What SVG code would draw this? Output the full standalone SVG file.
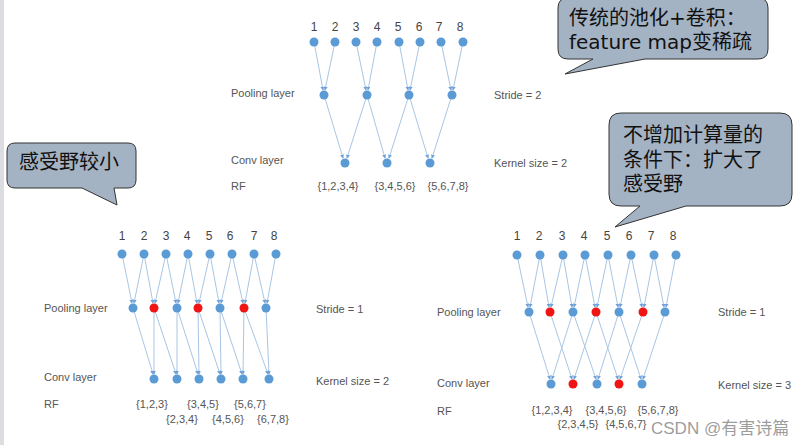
<svg xmlns="http://www.w3.org/2000/svg" width="794" height="445" viewBox="0 0 794 445">
<defs>
<marker id="ah" viewBox="0 0 6 6" refX="5" refY="3" markerWidth="4" markerHeight="4" orient="auto">
<path d="M0,0 L6,3 L0,6 Z" fill="#6fa0d6"/>
</marker>
<style>
.n{fill:#5b9bd5}
.r{fill:#f01414}
.e{stroke:#a9c6e4;stroke-width:1;fill:none;marker-end:url(#ah)}
.num{font-family:"Liberation Sans",Arial,sans-serif;font-size:12px;fill:#444;text-anchor:middle}
.lb{font-family:"Liberation Sans",Arial,sans-serif;font-size:11px;fill:#555}
.rf{font-family:"Liberation Sans",Arial,sans-serif;font-size:11px;fill:#555;text-anchor:middle}
.bub{fill:#a4b3c4;stroke:#333;stroke-width:1}
.bt{font-family:"DejaVu Sans","Noto Sans CJK SC",sans-serif;font-size:20px;fill:#111}
</style>
</defs>
<rect width="794" height="445" fill="#fff"/>
<rect x="0" y="0" width="4" height="445" fill="#dcdde1"/>

<g id="connectors">
<!-- top -->
<line class="e" x1="314" y1="42" x2="323" y2="90"/>
<line class="e" x1="335" y1="42" x2="325" y2="90"/>
<line class="e" x1="356" y1="42" x2="366" y2="90"/>
<line class="e" x1="377" y1="42" x2="368" y2="90"/>
<line class="e" x1="399" y1="42" x2="408" y2="90"/>
<line class="e" x1="420" y1="42" x2="410" y2="90"/>
<line class="e" x1="441" y1="42" x2="451" y2="90"/>
<line class="e" x1="463" y1="42" x2="453" y2="90"/>
<line class="e" x1="324" y1="95" x2="343" y2="158"/>
<line class="e" x1="367" y1="95" x2="347" y2="158"/>
<line class="e" x1="367" y1="95" x2="385" y2="158"/>
<line class="e" x1="409" y1="95" x2="389" y2="158"/>
<line class="e" x1="409" y1="95" x2="428" y2="158"/>
<line class="e" x1="452" y1="95" x2="432" y2="158"/>
<!-- left -->
<line class="e" x1="122" y1="254" x2="132" y2="303"/>
<line class="e" x1="144" y1="254" x2="134" y2="303"/>
<line class="e" x1="144" y1="254" x2="153" y2="303"/>
<line class="e" x1="166" y1="254" x2="155" y2="303"/>
<line class="e" x1="166" y1="254" x2="176" y2="303"/>
<line class="e" x1="188" y1="254" x2="178" y2="303"/>
<line class="e" x1="188" y1="254" x2="197" y2="303"/>
<line class="e" x1="210" y1="254" x2="199" y2="303"/>
<line class="e" x1="210" y1="254" x2="219" y2="303"/>
<line class="e" x1="232" y1="254" x2="221" y2="303"/>
<line class="e" x1="232" y1="254" x2="243" y2="303"/>
<line class="e" x1="254" y1="254" x2="245" y2="303"/>
<line class="e" x1="254" y1="254" x2="265" y2="303"/>
<line class="e" x1="276" y1="254" x2="267" y2="303"/>
<line class="e" x1="133" y1="308" x2="153" y2="374"/>
<line class="e" x1="154" y1="308" x2="154" y2="374"/>
<line class="e" x1="154" y1="308" x2="176" y2="374"/>
<line class="e" x1="177" y1="308" x2="177" y2="374"/>
<line class="e" x1="177" y1="308" x2="198" y2="374"/>
<line class="e" x1="198" y1="308" x2="199" y2="374"/>
<line class="e" x1="198" y1="308" x2="220" y2="374"/>
<line class="e" x1="220" y1="308" x2="221" y2="374"/>
<line class="e" x1="220" y1="308" x2="242" y2="374"/>
<line class="e" x1="244" y1="308" x2="243" y2="374"/>
<line class="e" x1="244" y1="308" x2="268" y2="374"/>
<line class="e" x1="266" y1="308" x2="269" y2="374"/>
<!-- right -->
<line class="e" x1="517" y1="255" x2="528" y2="307"/>
<line class="e" x1="540" y1="255" x2="530" y2="307"/>
<line class="e" x1="540" y1="255" x2="549" y2="307"/>
<line class="e" x1="563" y1="255" x2="551" y2="307"/>
<line class="e" x1="563" y1="255" x2="572" y2="307"/>
<line class="e" x1="585" y1="255" x2="574" y2="307"/>
<line class="e" x1="585" y1="255" x2="595" y2="307"/>
<line class="e" x1="608" y1="255" x2="597" y2="307"/>
<line class="e" x1="608" y1="255" x2="618" y2="307"/>
<line class="e" x1="631" y1="255" x2="620" y2="307"/>
<line class="e" x1="631" y1="255" x2="642" y2="307"/>
<line class="e" x1="654" y1="255" x2="644" y2="307"/>
<line class="e" x1="654" y1="255" x2="664" y2="307"/>
<line class="e" x1="676" y1="255" x2="666" y2="307"/>
<line class="e" x1="529" y1="312" x2="550" y2="379"/>
<line class="e" x1="573" y1="312" x2="552" y2="379"/>
<line class="e" x1="550" y1="312" x2="572" y2="379"/>
<line class="e" x1="596" y1="312" x2="574" y2="379"/>
<line class="e" x1="573" y1="312" x2="596" y2="379"/>
<line class="e" x1="619" y1="312" x2="598" y2="379"/>
<line class="e" x1="596" y1="312" x2="618" y2="379"/>
<line class="e" x1="643" y1="312" x2="620" y2="379"/>
<line class="e" x1="619" y1="312" x2="641" y2="379"/>
<line class="e" x1="665" y1="312" x2="643" y2="379"/>
</g>

<g id="top-diagram">
<g class="num">
<text x="314" y="31">1</text><text x="335" y="31">2</text><text x="356" y="31">3</text><text x="377" y="31">4</text>
<text x="398" y="31">5</text><text x="419" y="31">6</text><text x="439" y="31">7</text><text x="460" y="31">8</text>
</g>
<g class="n">
<circle cx="314" cy="42" r="4.5"/><circle cx="335" cy="42" r="4.5"/><circle cx="356" cy="42" r="4.5"/><circle cx="377" cy="42" r="4.5"/>
<circle cx="399" cy="42" r="4.5"/><circle cx="420" cy="42" r="4.5"/><circle cx="441" cy="42" r="4.5"/><circle cx="463" cy="42" r="4.5"/>
<circle cx="324" cy="95" r="4.5"/><circle cx="367" cy="95" r="4.5"/><circle cx="409" cy="95" r="4.5"/><circle cx="452" cy="95" r="4.5"/>
<circle cx="345" cy="163" r="4.5"/><circle cx="387" cy="163" r="4.5"/><circle cx="430" cy="163" r="4.5"/>
</g>
<text class="lb" x="231" y="97">Pooling layer</text>
<text class="lb" x="231" y="164">Conv layer</text>
<text class="lb" x="231" y="190">RF</text>
<text class="lb" x="494" y="99">Stride = 2</text>
<text class="lb" x="494" y="167">Kernel size = 2</text>
<text class="rf" x="338" y="190">{1,2,3,4}</text>
<text class="rf" x="395" y="190">{3,4,5,6}</text>
<text class="rf" x="448" y="190">{5,6,7,8}</text>
</g>

<g id="left-diagram">
<g class="num">
<text x="122" y="240">1</text><text x="144" y="240">2</text><text x="166" y="240">3</text><text x="187" y="240">4</text>
<text x="209" y="240">5</text><text x="230" y="240">6</text><text x="254" y="240">7</text><text x="274" y="240">8</text>
</g>
<g class="n">
<circle cx="122" cy="254" r="4.5"/><circle cx="144" cy="254" r="4.5"/><circle cx="166" cy="254" r="4.5"/><circle cx="188" cy="254" r="4.5"/>
<circle cx="210" cy="254" r="4.5"/><circle cx="232" cy="254" r="4.5"/><circle cx="254" cy="254" r="4.5"/><circle cx="276" cy="254" r="4.5"/>
<circle cx="133" cy="308" r="4.5"/><circle cx="177" cy="308" r="4.5"/><circle cx="220" cy="308" r="4.5"/><circle cx="266" cy="308" r="4.5"/>
<circle cx="154" cy="379" r="4.5"/><circle cx="177" cy="379" r="4.5"/><circle cx="199" cy="379" r="4.5"/><circle cx="221" cy="379" r="4.5"/><circle cx="243" cy="379" r="4.5"/><circle cx="269" cy="379" r="4.5"/>
</g>
<g class="r">
<circle cx="154" cy="308" r="4.5"/><circle cx="198" cy="308" r="4.5"/><circle cx="244" cy="308" r="4.5"/>
</g>
<text class="lb" x="44" y="312">Pooling layer</text>
<text class="lb" x="44" y="381">Conv layer</text>
<text class="lb" x="44" y="408">RF</text>
<text class="lb" x="316" y="313">Stride = 1</text>
<text class="lb" x="316" y="385">Kernel size = 2</text>
<text class="rf" x="152" y="408">{1,2,3}</text>
<text class="rf" x="203" y="408">{3,4,5}</text>
<text class="rf" x="250" y="408">{5,6,7}</text>
<text class="rf" x="182" y="423">{2,3,4}</text>
<text class="rf" x="228" y="423">{4,5,6}</text>
<text class="rf" x="273" y="423">{6,7,8}</text>
</g>

<g id="right-diagram">
<g class="num">
<text x="517" y="240">1</text><text x="539" y="240">2</text><text x="562" y="240">3</text><text x="584" y="240">4</text>
<text x="607" y="240">5</text><text x="629" y="240">6</text><text x="651" y="240">7</text><text x="673" y="240">8</text>
</g>
<g class="n">
<circle cx="517" cy="255" r="4.5"/><circle cx="540" cy="255" r="4.5"/><circle cx="563" cy="255" r="4.5"/><circle cx="585" cy="255" r="4.5"/>
<circle cx="608" cy="255" r="4.5"/><circle cx="631" cy="255" r="4.5"/><circle cx="654" cy="255" r="4.5"/><circle cx="676" cy="255" r="4.5"/>
<circle cx="529" cy="312" r="4.5"/><circle cx="573" cy="312" r="4.5"/><circle cx="619" cy="312" r="4.5"/><circle cx="665" cy="312" r="4.5"/>
<circle cx="551" cy="384" r="4.5"/><circle cx="597" cy="384" r="4.5"/><circle cx="642" cy="384" r="4.5"/>
</g>
<g class="r">
<circle cx="550" cy="312" r="4.5"/><circle cx="596" cy="312" r="4.5"/><circle cx="643" cy="312" r="4.5"/>
<circle cx="573" cy="384" r="4.5"/><circle cx="619" cy="384" r="4.5"/>
</g>
<text class="lb" x="437" y="316">Pooling layer</text>
<text class="lb" x="437" y="387">Conv layer</text>
<text class="lb" x="437" y="415">RF</text>
<text class="lb" x="718" y="316">Stride = 1</text>
<text class="lb" x="718" y="389">Kernel size = 3</text>
<text class="rf" x="552" y="414">{1,2,3,4}</text>
<text class="rf" x="606" y="414">{3,4,5,6}</text>
<text class="rf" x="658" y="414">{5,6,7,8}</text>
<text class="rf" x="578" y="428">{2,3,4,5}</text>
<text class="rf" x="626" y="428">{4,5,6,7}</text>
</g>

<g id="bubble-top">
<path class="bub" d="M568,-2 H758 Q768,-2 768,8 V49 Q768,59 758,59 H645 L565,74 L593,59 H568 Q558,59 558,49 V8 Q558,-2 568,-2 Z"/>
<text class="bt" x="569" y="25">传统的池化+卷积：</text>
<text class="bt" x="569" y="49">feature map变稀疏</text>
</g>

<g id="bubble-left">
<path class="bub" d="M15,143 H128 Q136,143 136,151 V180 Q136,188 128,188 H114 L117,205 L82,188 H15 Q7,188 7,180 V151 Q7,143 15,143 Z"/>
<text class="bt" x="19" y="169">感受野较小</text>
</g>

<g id="bubble-right">
<path class="bub" d="M621,113 H780 Q792,113 792,125 V194 Q792,206 780,206 H686 L615,227 L640,206 H621 Q609,206 609,194 V125 Q609,113 621,113 Z"/>
<text class="bt" x="623" y="142">不增加计算量的</text>
<text class="bt" x="623" y="167">条件下：扩大了</text>
<text class="bt" x="623" y="191">感受野</text>
</g>

<text x="651" y="434" font-family="Liberation Sans,Noto Sans CJK SC,sans-serif" font-size="17" fill="#8a8a8a" fill-opacity="0.85">CSDN @有害诗篇</text>
</svg>
